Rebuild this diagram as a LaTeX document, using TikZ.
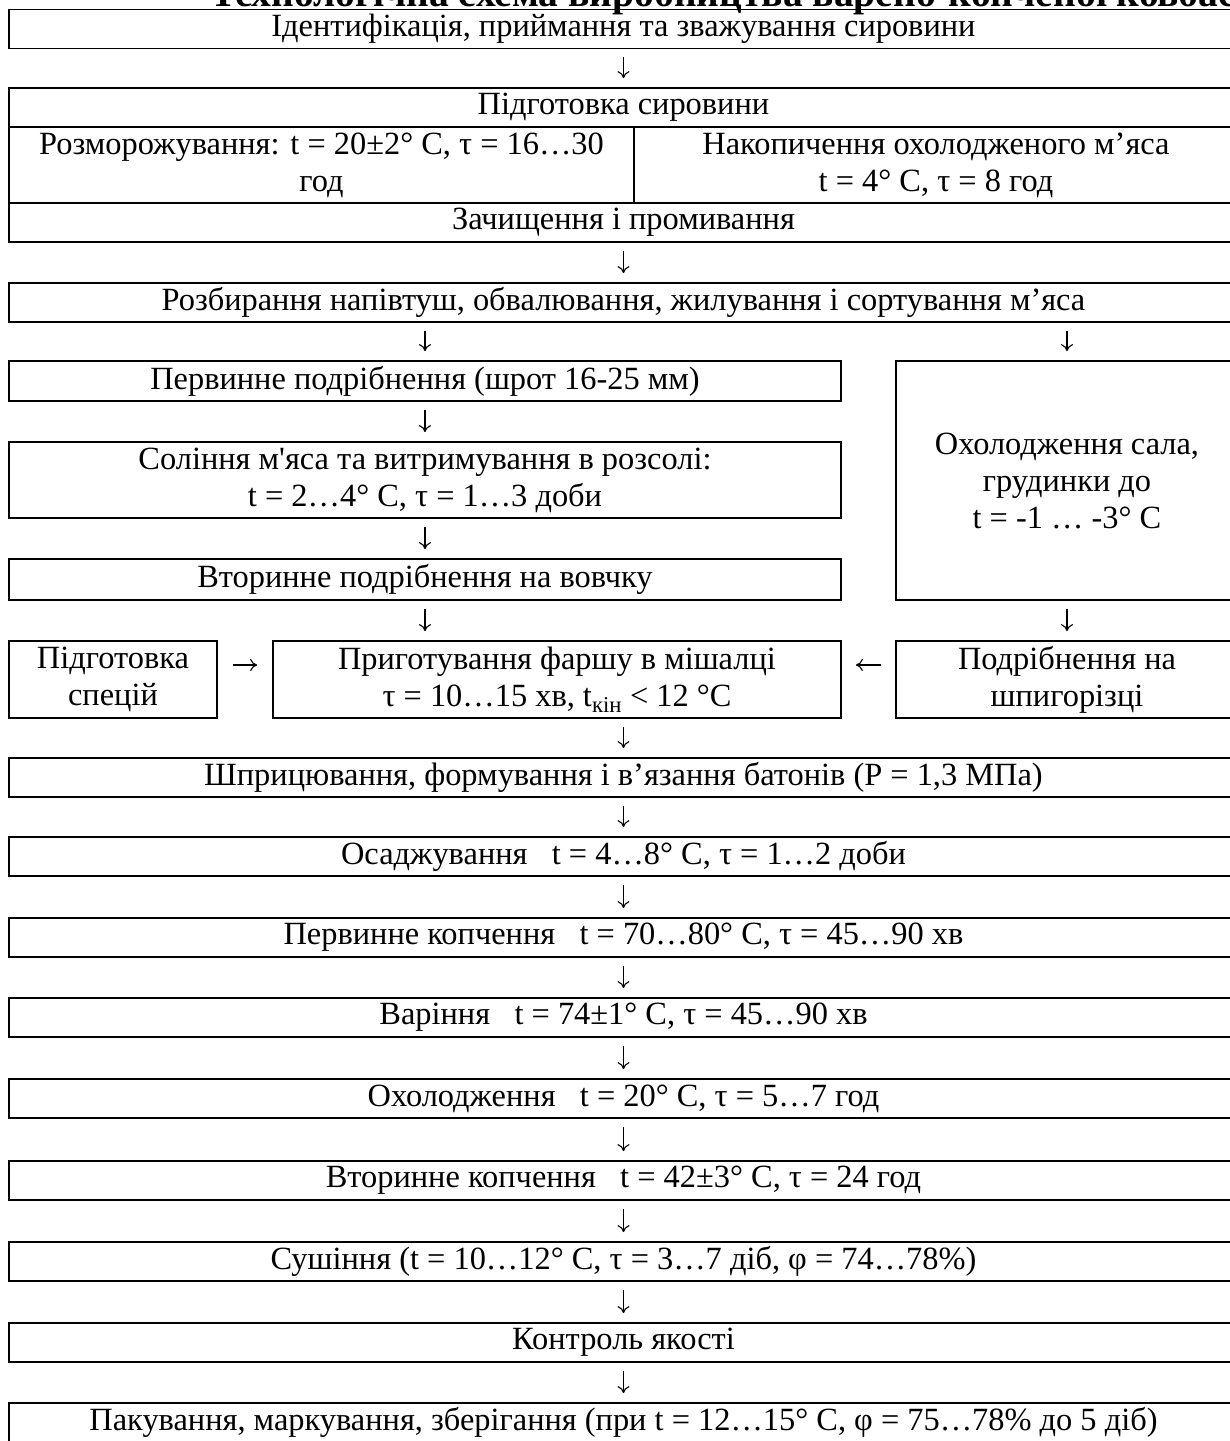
\documentclass[tikz,border=0pt]{standalone}
\usepackage{fontspec}
\setmainfont{Liberation Serif}[Ligatures=TeXOff]
\usepackage{tikz}
\usetikzlibrary{
  arrows.meta,
  positioning,
  calc
}
\tikzset{
  stagebox/.style={
    draw,
    line width=1.8pt,
    align=center,
    inner sep=0pt,
    font=\fontsize{32.4}{37}\selectfont
  },
  widebox/.style={stagebox,minimum width=1229pt,minimum height=39pt},
  leftbox/.style={stagebox,minimum width=832pt},
  rightbox/.style={stagebox,minimum width=342pt},
  flowarrow/.style={-{To[length=7pt,width=12pt]},line width=1.1pt,shorten <=8pt,shorten >=9pt},
}

\begin{document}
\begin{tikzpicture}[x=1pt,y=-1pt]
  \useasboundingbox (0,0) rectangle (1230,1441);
  \clip (0,0) rectangle (1230,1441);

  % Title, cut by the page edge
  \node[anchor=base west,inner sep=0pt,font=\fontsize{39.5}{44}\selectfont\bfseries] (title) at (210,6) {Технологічна схема виробництва варено-копченої ковбаси};

  % Raw material
  \node[widebox] (ident) at (623.5,29) {Ідентифікація, приймання та зважування сировини};
  \node[widebox] (prep) at (623.5,107.5) {Підготовка сировини};
  \node[stagebox,minimum width=625pt,minimum height=76pt] (thaw) at (321.5,165) {Розморожування: t = 20±2° C, τ = 16…30\\год};
  \node[stagebox,minimum width=604pt,minimum height=76pt] (store) at (936,165) {Накопичення охолодженого м’яса\\t = 4° C, τ = 8 год};
  \node[widebox] (clean) at (623.5,222.5) {Зачищення і промивання};
  \node[widebox] (cut) at (623.5,302.5) {Розбирання напівтуш, обвалювання, жилування і сортування м’яса};

  % Meat line
  \node[leftbox,minimum height=40pt] (grind1) at (425,381) {Первинне подрібнення (шрот 16-25 мм)};
  \node[leftbox,minimum height=76pt] (salt) at (425,480) {Соління м'яса та витримування в розсолі:\\t = 2…4° C, τ = 1…3 доби};
  \node[leftbox,minimum height=41pt] (grind2) at (425,579.5) {Вторинне подрібнення на вовчку};

  % Fat line
  \node[rightbox,minimum height=239pt] (fatcool) at (1067,480.5) {Охолодження сала,\\грудинки до\\t = -1 … -3° C};

  % Mince
  \node[stagebox,minimum width=208pt,minimum height=77pt] (spice) at (113,679.5) {Підготовка\\спецій};
  \node[stagebox,minimum width=568pt,minimum height=77pt] (mix) at (557,679.5) {Приготування фаршу в мішалці\\τ = 10…15 хв, t\textsubscript{кін} < 12 °C};
  \node[rightbox,minimum height=77pt] (fatcut) at (1067,679.5) {Подрібнення на\\шпигорізці};

  % Sausage
  \node[widebox] (stuff) at (623.5,777.5) {Шприцювання, формування і в’язання батонів (P = 1,3 МПа)};
  \node[widebox] (settle) at (623.5,856.5) {Осаджування\ \ \ t = 4…8° C, τ = 1…2 доби};
  \node[widebox] (smoke1) at (623.5,937.5) {Первинне копчення\ \ \ t = 70…80° C, τ = 45…90 хв};
  \node[widebox] (cook) at (623.5,1017.5) {Варіння\ \ \ t = 74±1° C, τ = 45…90 хв};
  \node[widebox] (cool) at (623.5,1098.5) {Охолодження\ \ \ t = 20° C, τ = 5…7 год};
  \node[widebox] (smoke2) at (623.5,1180.5) {Вторинне копчення\ \ \ t = 42±3° C, τ = 24 год};
  \node[widebox] (dry) at (623.5,1261.5) {Сушіння (t = 10…12° C, τ = 3…7 діб, φ = 74…78\%)};
  \node[widebox] (qc) at (623.5,1342.5) {Контроль якості};
  \node[widebox] (pack) at (623.5,1422.5) {Пакування, маркування, зберігання (при t = 12…15° C, φ = 75…78\% до 5 діб)};

  % Arrows
  \draw[flowarrow] (ident) -- (prep);
  \draw[flowarrow] (clean) -- (cut);
  \draw[flowarrow] (cut.south -| grind1) -- (grind1);
  \draw[flowarrow] (cut.south -| fatcool) -- (fatcool);
  \draw[flowarrow] (grind1) -- (salt);
  \draw[flowarrow] (salt) -- (grind2);
  \draw[flowarrow] (grind2.south) -- (grind2.south |- mix.north);
  \draw[flowarrow] (fatcool) -- (fatcut);
  \draw[flowarrow,shorten <=15pt,shorten >=15pt] ([yshift=14.5pt]spice.east) -- ([yshift=14.5pt]mix.west);
  \draw[flowarrow,shorten <=14pt,shorten >=14pt] ([yshift=14.5pt]fatcut.west) -- ([yshift=14.5pt]mix.east);
  \draw[flowarrow] (mix.south -| stuff) -- (stuff);
  \draw[flowarrow] (stuff) -- (settle);
  \draw[flowarrow] (settle) -- (smoke1);
  \draw[flowarrow] (smoke1) -- (cook);
  \draw[flowarrow] (cook) -- (cool);
  \draw[flowarrow] (cool) -- (smoke2);
  \draw[flowarrow] (smoke2) -- (dry);
  \draw[flowarrow] (dry) -- (qc);
  \draw[flowarrow] (qc) -- (pack);
\end{tikzpicture}
\end{document}
